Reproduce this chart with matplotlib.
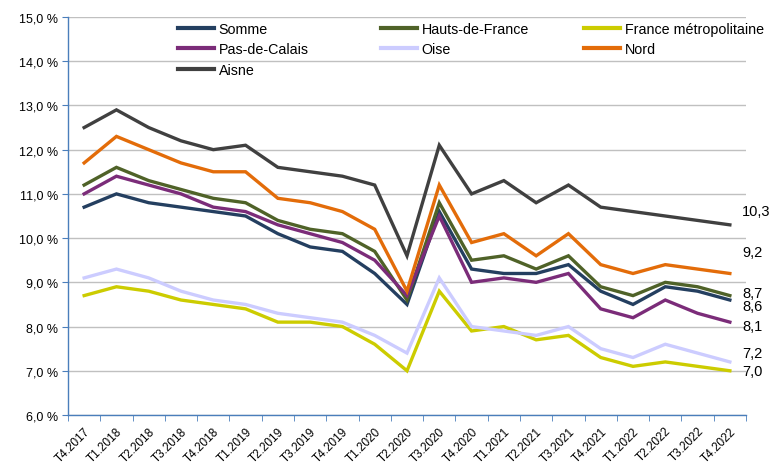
import matplotlib
matplotlib.use("Agg")
import matplotlib.pyplot as plt
import numpy as np

plt.rcParams['font.family'] = ['Liberation Sans', 'DejaVu Sans']

quarters = ["T4.2017", "T1.2018", "T2.2018", "T3.2018", "T4.2018", "T1.2019", "T2.2019",
            "T3.2019", "T4.2019", "T1.2020", "T2.2020", "T3.2020", "T4.2020", "T1.2021",
            "T2.2021", "T3.2021", "T4.2021", "T1.2022", "T2.2022", "T3.2022", "T4.2022"]

somme = [10.7, 11.0, 10.8, 10.7, 10.6, 10.5, 10.1, 9.8, 9.7, 9.2, 8.5, 10.6, 9.3, 9.2, 9.2, 9.4, 8.8, 8.5, 8.9, 8.8, 8.6]
hauts_de_france = [11.2, 11.6, 11.3, 11.1, 10.9, 10.8, 10.4, 10.2, 10.1, 9.7, 8.6, 10.8, 9.5, 9.6, 9.3, 9.6, 8.9, 8.7, 9.0, 8.9, 8.7]
france_metro = [8.7, 8.9, 8.8, 8.6, 8.5, 8.4, 8.1, 8.1, 8.0, 7.6, 7.0, 8.8, 7.9, 8.0, 7.7, 7.8, 7.3, 7.1, 7.2, 7.1, 7.0]
pas_de_calais = [11.0, 11.4, 11.2, 11.0, 10.7, 10.6, 10.3, 10.1, 9.9, 9.5, 8.7, 10.5, 9.0, 9.1, 9.0, 9.2, 8.4, 8.2, 8.6, 8.3, 8.1]
oise = [9.1, 9.3, 9.1, 8.8, 8.6, 8.5, 8.3, 8.2, 8.1, 7.8, 7.4, 9.1, 8.0, 7.9, 7.8, 8.0, 7.5, 7.3, 7.6, 7.4, 7.2]
nord = [11.7, 12.3, 12.0, 11.7, 11.5, 11.5, 10.9, 10.8, 10.6, 10.2, 8.8, 11.2, 9.9, 10.1, 9.6, 10.1, 9.4, 9.2, 9.4, 9.3, 9.2]
aisne = [12.5, 12.9, 12.5, 12.2, 12.0, 12.1, 11.6, 11.5, 11.4, 11.2, 9.6, 12.1, 11.0, 11.3, 10.8, 11.2, 10.7, 10.6, 10.5, 10.4, 10.3]

series_names = ["Somme", "Hauts-de-France", "France métropolitaine", "Pas-de-Calais", "Oise", "Nord", "Aisne"]
series_values = [somme, hauts_de_france, france_metro, pas_de_calais, oise, nord, aisne]
colors = ["#243F60", "#4F6228", "#CCCC00", "#7B2C79", "#CCCCFF", "#E36C09", "#404040"]
# vertical offsets (in data units) of the end labels, to avoid overlaps
label_offsets = [-0.14, 0.06, 0.0, -0.09, 0.20, 0.49, 0.31]

fig = plt.figure(figsize=(7.74, 4.64), dpi=100)
ax = fig.add_axes([68/774, 1-416/464, (746-68)/774, (416-18)/464])

x = np.arange(len(quarters))
handles = []
for name, vals, c in zip(series_names, series_values, colors):
    h, = ax.plot(x, vals, color=c, lw=2.4, label=name, solid_joinstyle='miter')
    handles.append(h)

for vals, off in zip(series_values, label_offsets):
    ax.text(x[-1] + 0.38, vals[-1] + off, f"{vals[-1]:.1f}".replace('.', ','),
            fontsize=10.5, va='center', ha='left', color='black', clip_on=False)

ax.set_xlim(-0.5, len(quarters) - 0.5)
ax.set_ylim(6, 15)
ax.set_yticks(np.arange(6, 15.01, 1))
ax.set_yticklabels([f"{v:.1f} %".replace('.', ',') for v in np.arange(6, 15.01, 1)], fontsize=9)
ax.yaxis.grid(True, color='#C0C0C0', lw=1)
ax.set_axisbelow(True)

ax.set_xticks(x)
ax.set_xticklabels(quarters, rotation=45, ha='right', rotation_mode='anchor', fontsize=8.5)
ax.set_xticks(np.arange(-0.5, len(quarters), 1), minor=True)
ax.tick_params(axis='x', which='major', length=0, pad=7)
ax.tick_params(axis='x', which='minor', length=4, color='#4A7EBB', direction='out')
ax.tick_params(axis='y', length=4, color='#4A7EBB', direction='out', pad=3)

for s in ['top', 'right']:
    ax.spines[s].set_visible(False)
for s in ['left', 'bottom']:
    ax.spines[s].set_color('#4A7EBB')
    ax.spines[s].set_linewidth(1)

# legend in three columns, row-major order like the original
columns = [[0, 3, 6], [1, 4], [2, 5]]
col_x = [178, 381, 584]
legends = []
for idxs, px in zip(columns, col_x):
    leg = ax.legend([handles[i] for i in idxs], [series_names[i] for i in idxs],
                    loc='upper left', bbox_to_anchor=(px / 774, 1 - 23 / 464),
                    bbox_transform=fig.transFigure,
                    frameon=False, fontsize=10.3, handlelength=2.55, handletextpad=0.3,
                    labelspacing=0.45, borderpad=0.0, borderaxespad=0.0)
    for lh in leg.get_lines():
        lh.set_linewidth(3)
    legends.append(leg)
for leg in legends[:-1]:
    ax.add_artist(leg)

fig.savefig("out.png", dpi=100)
